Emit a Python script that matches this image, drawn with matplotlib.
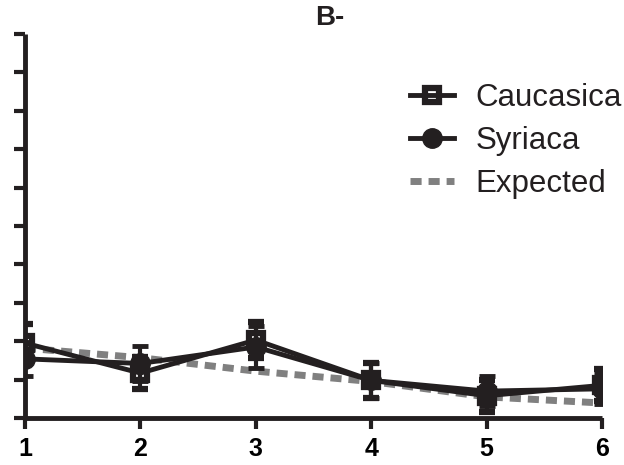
"""Line plot with SEM error bars: Caucasica vs Syriaca vs expected."""

import matplotlib
matplotlib.use("Agg")
import matplotlib.pyplot as plt
from matplotlib.lines import Line2D

positions = [1, 2, 3, 4, 5, 6]
caucasica_mean = [1.95, 1.17, 2.03, 0.98, 0.58, 0.85]
caucasica_err = [0.50, 0.42, 0.47, 0.45, 0.42, 0.42]
syriaca_mean = [1.54, 1.42, 1.85, 0.98, 0.70, 0.76]
syriaca_err = [0.45, 0.45, 0.55, 0.45, 0.40, 0.40]
expected = [1.82, 1.57, 1.22, 0.95, 0.55, 0.39]

INK = "#231f20"
plt.rcParams.update({"font.family": ["Liberation Sans", "DejaVu Sans"]})

fig = plt.figure(figsize=(6.24, 4.65), dpi=100)
ax = fig.add_axes([25 / 624, 1 - 418 / 465, 577 / 624, 384 / 465])

exp_style = dict(color="#808080", lw=5, dashes=(1.6, 1.0), dash_capstyle="butt")
cau_style = dict(color=INK, lw=3.5, marker="s", ms=10.5, mfc="none", mec=INK, mew=4.5)
syr_style = dict(color=INK, lw=3.5, marker="o", ms=14, mfc=INK, mec=INK)

ax.plot(positions, expected, zorder=1, **exp_style)
ax.errorbar(positions, caucasica_mean, yerr=caucasica_err, elinewidth=3,
            capsize=6, capthick=3.5, zorder=3, **cau_style)
ax.errorbar(positions, syriaca_mean, yerr=syriaca_err, elinewidth=3,
            capsize=6, capthick=3.5, zorder=2, **syr_style)

ax.set_xlim(1, 6)
ax.set_ylim(0, 10)
ax.set_xticks(positions)
ax.set_yticks(range(0, 11))
ax.set_yticklabels([])
ax.tick_params(axis="both", width=3, length=8, color=INK)
ax.tick_params(axis="x", labelsize=18, pad=6)
for lbl in ax.get_xticklabels():
    lbl.set_fontweight("bold")
for side in ("top", "right"):
    ax.spines[side].set_visible(False)
for side in ("left", "bottom"):
    ax.spines[side].set_linewidth(3.5)
    ax.spines[side].set_color(INK)
    ax.spines[side].set_capstyle("butt")

fig.text(330 / 624, 1 - 18 / 465, "B-", ha="center", va="center",
         fontsize=20, fontweight="bold", color=INK)

handles = [Line2D([], [], **cau_style), Line2D([], [], **syr_style),
           Line2D([], [], **exp_style)]
ax.legend(handles, ["Caucasica", "Syriaca", "Expected"],
          loc="upper left", bbox_to_anchor=(410 / 624, 1 - 83 / 465),
          bbox_transform=fig.transFigure, frameon=False, fontsize=22.5,
          handlelength=1.4, handletextpad=0.7, labelspacing=0.42,
          borderpad=0, borderaxespad=0, labelcolor=INK)

fig.savefig("out.png", dpi=100)
